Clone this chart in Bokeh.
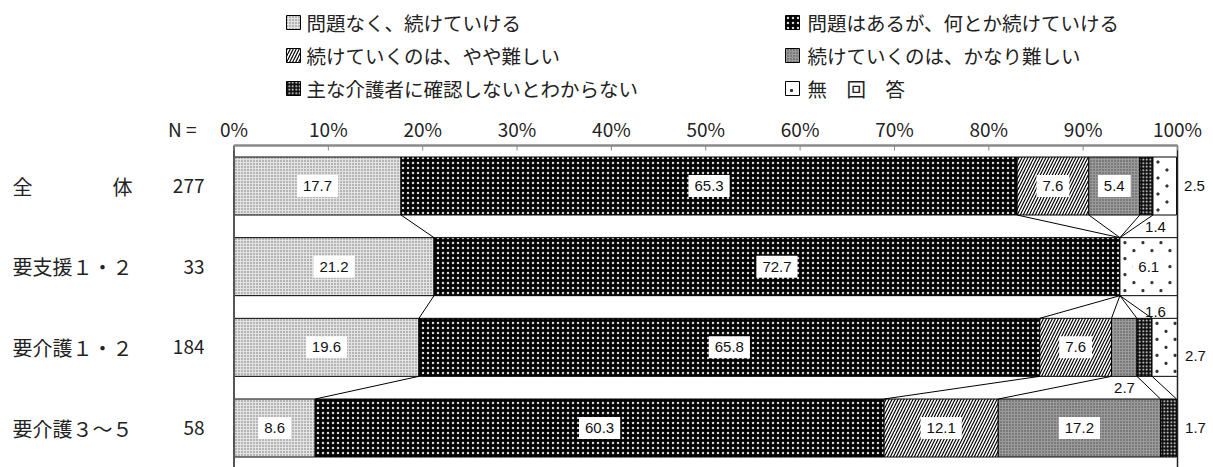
from bokeh.plotting import figure
from bokeh.models import Range1d, ColumnDataSource
from bokeh.core.properties import value
from bokeh.embed import file_html
from bokeh.resources import INLINE

# ---------------- data ----------------
categories = ["全　　　　体", "要支援１・２", "要介護１・２", "要介護３～５"]
n_values = ["277", "33", "184", "58"]
series_names = [
    "問題なく、続けていける",
    "問題はあるが、何とか続けていける",
    "続けていくのは、やや難しい",
    "続けていくのは、かなり難しい",
    "主な介護者に確認しないとわからない",
    "無　回　答",
]
s_no_problem = [17.7, 21.2, 19.6, 8.6]
s_some_problem = [65.3, 72.7, 65.8, 60.3]
s_bit_hard = [7.6, 0.0, 7.6, 12.1]
s_very_hard = [5.4, 0.0, 2.7, 17.2]
s_ask_carer = [1.4, 0.0, 1.6, 1.7]
s_no_answer = [2.5, 6.1, 2.7, 0.0]
series_values = [s_no_problem, s_some_problem, s_bit_hard, s_very_hard, s_ask_carer, s_no_answer]
tick_values = [0, 10, 20, 30, 40, 50, 60, 70, 80, 90, 100]
tick_labels = ["0%", "10%", "20%", "30%", "40%", "50%", "60%", "70%", "80%", "90%", "100%"]

# ---------------- styles / layout ----------------
styles = [
    dict(fill_color="#e2e2e2", hatch_pattern=".", hatch_color="#707070", hatch_scale=3, hatch_weight=1),
    dict(fill_color="#000000", hatch_pattern=".", hatch_color="#d8d8d8", hatch_scale=5, hatch_weight=1),
    dict(fill_color="#ffffff", hatch_pattern="/", hatch_color="#000000", hatch_scale=6, hatch_weight=1.2),
    dict(fill_color="#9a9a9a", hatch_pattern=".", hatch_color="#4a4a4a", hatch_scale=3, hatch_weight=1),
    dict(fill_color="#111111", hatch_pattern=".", hatch_color="#ffffff", hatch_scale=3.5, hatch_weight=1),
    dict(fill_color="#ffffff"),
]
SPARSE_SERIES = 5          # series drawn with sparse dot texture
SPARSE_PITCH_X = 18        # px
SPARSE_PITCH_Y = 8         # px

FIG_W, FIG_H = 1213, 467
X0_PAGE = 233.5
PX_PER_PCT = 9.435
Y0_PAGE = 185.5
PX_PER_ROW = 80.67


def dx(page_x):
    return (page_x - X0_PAGE) / PX_PER_PCT


def dy(page_y):
    return (page_y - Y0_PAGE) / PX_PER_ROW


BAR_H = 58 / PX_PER_ROW
JP = value("Noto Sans CJK JP")
NUM = value("Liberation Sans")

# outside label placements (row, series) -> page position
outside_pos = {
    (0, 4): (1155, 226),
    (0, 5): (1194, 185.5),
    (2, 4): (1155, 311),
    (2, 3): (1124, 387),
    (2, 5): (1195, 355),
    (3, 4): (1195, 427.5),
}

p = figure(width=FIG_W, height=FIG_H,
           x_range=Range1d(dx(0), dx(FIG_W)),
           y_range=Range1d(dy(FIG_H), dy(0)),
           toolbar_location=None, output_backend="svg",
           x_axis_location=None, y_axis_location=None,
           min_border=0, outline_line_color=None)
p.grid.visible = False
p.background_fill_color = "white"

rows = list(range(len(categories)))

# cumulative boundaries
cum = []
for r in rows:
    acc = [0.0]
    for s in series_values:
        acc.append(acc[-1] + s[r])
    cum.append(acc)

# bars
for k, (vals, st) in enumerate(zip(series_values, styles)):
    ys, ls, rs = [], [], []
    for r in rows:
        if vals[r] > 0:
            ys.append(r)
            ls.append(cum[r][k])
            rs.append(cum[r][k + 1])
    src = ColumnDataSource(dict(y=ys, left=ls, right=rs))
    p.hbar(y="y", left="left", right="right", height=BAR_H, source=src,
           line_color="black", line_width=1, **st)

# sparse dot texture for the "no answer" segments
dot_x, dot_y = [], []
k = SPARSE_SERIES
for r in rows:
    if series_values[k][r] <= 0:
        continue
    left, right = cum[r][k], cum[r][k + 1]
    top, bottom = r - BAR_H / 2, r + BAR_H / 2
    yy = top + 5 / PX_PER_ROW
    j = 0
    while yy < bottom - 3 / PX_PER_ROW:
        xx = left + (5 + (j % 2) * SPARSE_PITCH_X / 2) / PX_PER_PCT
        while xx < right - 2 / PX_PER_PCT:
            dot_x.append(xx)
            dot_y.append(yy)
            xx += SPARSE_PITCH_X / PX_PER_PCT
        yy += SPARSE_PITCH_Y / PX_PER_ROW
        j += 1
p.scatter(x=dot_x, y=dot_y, marker="square", size=2, color="#333333")

# connector lines between rows
cx0, cy0, cx1, cy1 = [], [], [], []
for r in rows[:-1]:
    for k in range(1, len(series_values)):
        cx0.append(cum[r][k])
        cy0.append(r + BAR_H / 2)
        cx1.append(cum[r + 1][k])
        cy1.append(r + 1 - BAR_H / 2)
p.segment(x0=cx0, y0=cy0, x1=cx1, y1=cy1, line_color="black", line_width=1)

# frame lines
p.segment(x0=[0], y0=[dy(145)], x1=[0], y1=[dy(FIG_H)], line_color="#555555", line_width=2)
p.segment(x0=[100], y0=[dy(145)], x1=[100], y1=[dy(FIG_H)], line_color="#222222", line_width=1.5)
p.segment(x0=[0], y0=[dy(145)], x1=[100], y1=[dy(145)], line_color="#8a8a8a", line_width=2.5)
p.segment(x0=tick_values, y0=[dy(145)] * len(tick_values), x1=tick_values,
          y1=[dy(150)] * len(tick_values), line_color="#8a8a8a", line_width=1)

# tick labels
p.text(x=tick_values, y=[dy(128)] * len(tick_values), text=tick_labels,
       text_align="center", text_baseline="middle", text_font=JP,
       text_font_size="19px", text_color="#222222")
p.text(x=[dx(196)], y=[dy(128)], text=["N ="], text_align="right", text_baseline="middle",
       text_font=JP, text_font_size="19px", text_color="#222222")

# category labels and N
p.text(x=[dx(12)] * len(rows), y=rows, text=categories, text_align="left",
       text_baseline="middle", text_font=JP, text_font_size="20px", text_color="#222222")
p.text(x=[dx(204)] * len(rows), y=rows, text=n_values, text_align="right",
       text_baseline="middle", text_font=JP, text_font_size="19px", text_color="#222222")

# value labels
in_x, in_y, in_t = [], [], []
out_x, out_y, out_t = [], [], []
for k, vals in enumerate(series_values):
    for r in rows:
        v = vals[r]
        if v <= 0:
            continue
        if (r, k) in outside_pos:
            px, py = outside_pos[(r, k)]
            out_x.append(dx(px))
            out_y.append(dy(py))
            out_t.append(f"{v:.1f}")
        else:
            in_x.append((cum[r][k] + cum[r][k + 1]) / 2)
            in_y.append(r)
            in_t.append(f"{v:.1f}")
p.text(x=in_x, y=in_y, text=in_t, text_align="center", text_baseline="middle",
       text_font=NUM, text_font_size="15px", text_color="#111111",
       background_fill_color="white", padding=6)
p.text(x=out_x, y=out_y, text=out_t, text_align="center", text_baseline="middle",
       text_font=NUM, text_font_size="15px", text_color="#111111")

# legend
leg_cols = [(286, 306), (785, 807)]
leg_rows = [22, 55, 88]
for k, name in enumerate(series_names):
    col = k % 2
    row = k // 2
    ix, tx = leg_cols[col]
    yy = dy(leg_rows[row])
    p.rect(x=[dx(ix + 7)], y=[yy], width=14, height=14, width_units="screen",
           height_units="screen", line_color="black", line_width=1, **styles[k])
    if k == SPARSE_SERIES:
        p.scatter(x=[dx(ix + 6)], y=[dy(leg_rows[row] + 2)], marker="square", size=2,
                  color="#333333")
    p.text(x=[dx(tx)], y=[yy], text=[name], text_align="left", text_baseline="middle",
           text_font=JP, text_font_size="19.5px", text_color="#222222")

open("out.html", "w").write(file_html(p, INLINE))
